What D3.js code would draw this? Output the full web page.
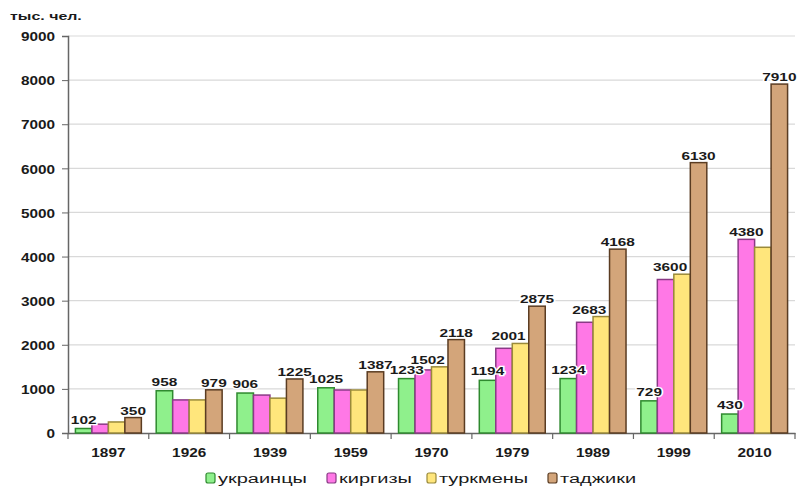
<!DOCTYPE html>
<html><head><meta charset="utf-8">
<script src="https://cdn.jsdelivr.net/npm/d3@7"></script>
<style>body{margin:0;background:#fff}svg{display:block}text{font-family:"Liberation Sans",Arial,sans-serif;fill:#1a1a1a}</style>
</head><body><svg id="c" width="797" height="488"></svg>
<script>
const years = ["1897","1926","1939","1959","1970","1979","1989","1999","2010"];
const seriesNames = ["украинцы","киргизы","туркмены","таджики"];
const ukrainians = [102, 958, 906, 1025, 1233, 1194, 1234, 729, 430];
const kyrgyz     = [200, 750, 860, 975, 1430, 1920, 2510, 3480, 4390];
const turkmen    = [250, 750, 790, 975, 1500, 2030, 2640, 3600, 4210];
const tajiks     = [350, 979, 1225, 1387, 2118, 2875, 4168, 6130, 7910];
const yTicks = [0,1000,2000,3000,4000,5000,6000,7000,8000,9000];
const unitLabel = "тыс. чел.";
// which bars carry a value label (series index, year index, text)
const valueLabels = [
  ...years.map((y,i)=>[0,i,String(ukrainians[i])]),
  ...years.map((y,i)=>[3,i,String(tajiks[i])]),
  [2,4,"1502"],[2,5,"2001"],[2,6,"2683"],[2,7,"3600"],
  [1,8,"4380"]
];
const fills   = ["#8ff08c","#ff78e6","#ffe67c","#d3a57a"];
const strokes = ["#2f8a2f","#8a3a86","#9a8a3a","#5a3c22"];
const series = [ukrainians, kyrgyz, turkmen, tajiks];

const svg = d3.select("#c");
const L=68, R=795, T=36, B=433;
const x0 = d3.scaleBand().domain(years).range([L,R]).padding(0);
const x1 = d3.scaleBand().domain(d3.range(4)).range([0,x0.bandwidth()]).paddingInner(0).paddingOuter(0.45);
const y = d3.scaleLinear().domain([0,9000]).range([B,T]);

function stretchText(sel, sx){
  sel.each(function(){
    const t=d3.select(this); const xx=+t.attr("x"), yy=+t.attr("y");
    t.attr("x",0).attr("y",0).attr("transform",`translate(${xx},${yy}) scale(${sx},1)`);
  });
}

// gridlines
svg.append("g").selectAll("line").data(yTicks.filter(d=>d>0)).join("line")
  .attr("x1",L).attr("x2",R).attr("y1",d=>y(d)).attr("y2",d=>y(d))
  .attr("stroke","#d9d9d9").attr("stroke-width",1.2);

// y axis
const ya = svg.append("g").attr("transform",`translate(${L},0)`)
  .call(d3.axisLeft(y).tickValues(yTicks).tickSize(6).tickPadding(7).tickFormat(d3.format("d")));
ya.select(".domain").attr("stroke","#666").attr("stroke-width",1.5);
ya.selectAll(".tick line").attr("stroke","#666");
ya.selectAll(".tick text").attr("font-size",13).attr("font-weight","bold").attr("fill","#1a1a1a").attr("dy","0.36em")
  .attr("transform","scale(1.18,1)").attr("x",-13/1.18);

// x axis
const xa = svg.append("g").attr("transform",`translate(0,${B})`)
  .call(d3.axisBottom(x0).tickSize(0).tickPadding(15));
xa.select(".domain").attr("stroke","#666").attr("stroke-width",1.5);
xa.selectAll(".tick text").attr("font-size",13).attr("font-weight","bold").attr("fill","#1a1a1a").attr("dy","0.71em")
  .attr("x",0).attr("transform","scale(1.18,1)");
// boundary ticks
svg.append("g").selectAll("line").data(years.map(d=>x0(d)).concat([R])).join("line")
  .attr("x1",d=>d).attr("x2",d=>d).attr("y1",B).attr("y2",B+6)
  .attr("stroke","#666").attr("stroke-width",1.2);

// bars
const g = svg.append("g");
years.forEach((yr,i)=>{
  series.forEach((s,k)=>{
    g.append("rect")
      .attr("x",x0(yr)+x1(k)).attr("width",x1.bandwidth())
      .attr("y",y(s[i])).attr("height",B-y(s[i]))
      .attr("fill",fills[k]).attr("stroke",strokes[k]).attr("stroke-width",1.5);
  });
});

// value labels
const lab = svg.append("g");
valueLabels.forEach(([k,i,t])=>{
  let cx = x0(years[i])+x1(k)+x1.bandwidth()/2;
  if(k===2) cx -= 12;
  const off = k===0 ? 5 : 3;
  lab.append("text").attr("x",cx).attr("y",y(series[k][i])-off)
    .attr("text-anchor","middle").attr("font-size",11).attr("font-weight","bold")
    .attr("stroke","#fff").attr("stroke-width",2.5).attr("paint-order","stroke")
    .text(t);
});
stretchText(lab.selectAll("text"),1.4);

// unit label
svg.append("text").attr("x",10).attr("y",20).attr("font-size",11).attr("font-weight","bold")
  .attr("fill","#333").text(unitLabel).call(s=>stretchText(s,1.45));

// legend
const legX = [206,327,427,548];
const leg = svg.append("g");
seriesNames.forEach((n,k)=>{
  leg.append("rect").attr("x",legX[k]).attr("y",473).attr("width",9).attr("height",10).attr("rx",2)
    .attr("fill",fills[k]).attr("stroke",strokes[k]).attr("stroke-width",1.2);
  leg.append("text").attr("x",legX[k]+12).attr("y",483).attr("font-size",12.5)
    .text(n).call(s=>stretchText(s,1.6));
});
</script></body></html>
